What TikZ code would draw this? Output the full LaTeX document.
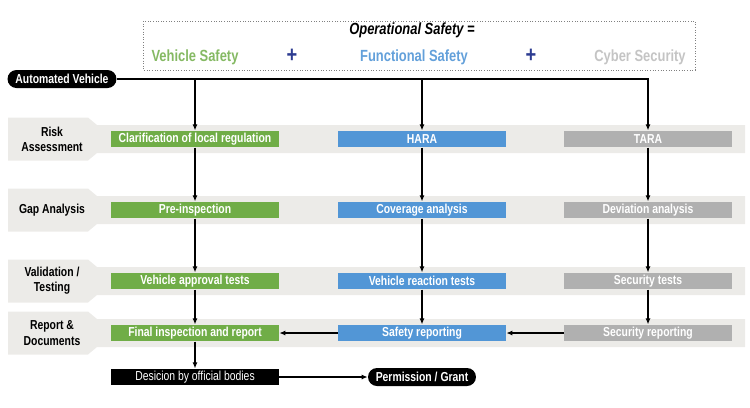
\documentclass[tikz,border=0pt]{standalone}
\usepackage{fontspec}
\newfontfamily\narrowsf[FakeStretch=0.8]{Liberation Sans}
\usetikzlibrary{calc}
\usetikzlibrary{positioning,arrows.meta}
\definecolor{vsgreen}{RGB}{112,173,71}
\definecolor{fsblue}{RGB}{82,150,214}
\definecolor{csgray}{RGB}{176,176,176}
\definecolor{bandgray}{RGB}{236,235,232}
\definecolor{plusblue}{RGB}{45,60,145}
\tikzset{every picture/.style={/utils/exec={\narrowsf}}}
\tikzset{
  stagebox/.style={minimum width=3.36cm, minimum height=0.33cm, inner sep=0pt,
    text=white, font=\narrowsf\bfseries\fontsize{7.4}{8}\selectfont},
  pill/.style={fill=black, rounded corners=0.18cm, minimum height=0.36cm, inner sep=0pt,
    text=white, font=\narrowsf\bfseries\fontsize{7.4}{8}\selectfont},
  rowlabel/.style={align=center, font=\narrowsf\bfseries\fontsize{7.4}{8.6}\selectfont},
  heading/.style={font=\narrowsf\bfseries\fontsize{9.2}{10}\selectfont},
  plussign/.style={text=plusblue, font=\bfseries\fontsize{13}{13}\selectfont},
  flow/.style={-{Latex[length=3.5pt,width=3pt]}, line width=1pt}
}

\begin{document}
\begin{tikzpicture}[x=0.02cm, y=-0.02cm]
  \useasboundingbox (0,0) rectangle (750,407);

  % bands of the four phases
  \foreach \yc in {139,210,281,333} {
    \fill [bandgray] (8,\yc-21.5) -- (88,\yc-21.5) -- (97,\yc-14) -- (745,\yc-14)
      -- (745,\yc+14) -- (97,\yc+14) -- (88,\yc+21.5) -- (8,\yc+21.5) -- cycle;
  }
  \node [rowlabel] (risk) at (52,139) {Risk\\Assessment};
  \node [rowlabel] (gap) at (52,210) {Gap Analysis};
  \node [rowlabel] (valid) at (52,281) {Validation /\\Testing};
  \node [rowlabel] (report) at (52,333) {Report \&\\Documents};

  % headline
  \draw [gray, densely dotted, line width=0.5pt] (143,21) rectangle (695,70);
  \node [heading, font=\narrowsf\bfseries\itshape\fontsize{9.2}{10}\selectfont] (opsafe) at (412,30) {Operational Safety =};
  \node [heading, text=vsgreen!85!white] (vsafe) at (195,57) {Vehicle Safety};
  \node [plussign] (plusa) at (292,56) {+};
  \node [heading, text=fsblue!90!white] (fsafe) at (414,57) {Functional Safety};
  \node [plussign] (plusb) at (531,56) {+};
  \node [heading, text=csgray!75!white] (csec) at (640,57) {Cyber Security};

  \node [pill, minimum width=2.18cm] (auto) at (62,79) {Automated Vehicle};

  % vehicle safety
  \node [stagebox, fill=vsgreen] (clar) at (195,139) {Clarification of local regulation};
  \node [stagebox, fill=vsgreen] (pre) at (195,210) {Pre-inspection};
  \node [stagebox, fill=vsgreen] (appr) at (195,281) {Vehicle approval tests};
  \node [stagebox, fill=vsgreen] (final) at (195,333) {Final inspection and report};

  % functional safety
  \node [stagebox, fill=fsblue] (hara) at (422,139) {HARA};
  \node [stagebox, fill=fsblue] (cover) at (422,210) {Coverage analysis};
  \node [stagebox, fill=fsblue] (react) at (422,281) {Vehicle reaction tests};
  \node [stagebox, fill=fsblue] (safrep) at (422,333) {Safety reporting};

  % cyber security
  \node [stagebox, fill=csgray] (tara) at (648,139) {TARA};
  \node [stagebox, fill=csgray] (dev) at (648,210) {Deviation analysis};
  \node [stagebox, fill=csgray] (sectest) at (648,281) {Security tests};
  \node [stagebox, fill=csgray] (secrep) at (648,333) {Security reporting};

  \node [stagebox, fill=black, font=\narrowsf\fontsize{7.4}{8}\selectfont] (decide) at (195,377) {Desicion by official bodies};
  \node [pill, minimum width=2.16cm] (grant) at (422,377) {Permission / Grant};

  % connectors
  \draw [flow] (auto.east) -| (tara.north);
  \draw [flow] (clar.north |- auto.east) -- (clar.north);
  \draw [flow] (hara.north |- auto.east) -- (hara.north);
  \foreach \a/\b in {clar/pre, pre/appr, appr/final, final/decide,
                     hara/cover, cover/react, react/safrep,
                     tara/dev, dev/sectest, sectest/secrep} {
    \draw [flow] (\a.south) -- (\b.north);
  }
  \draw [flow] (secrep.west) -- (safrep.east);
  \draw [flow] (safrep.west) -- (final.east);
  \draw [flow] (decide.east) -- (grant.west);
\end{tikzpicture}
\end{document}
